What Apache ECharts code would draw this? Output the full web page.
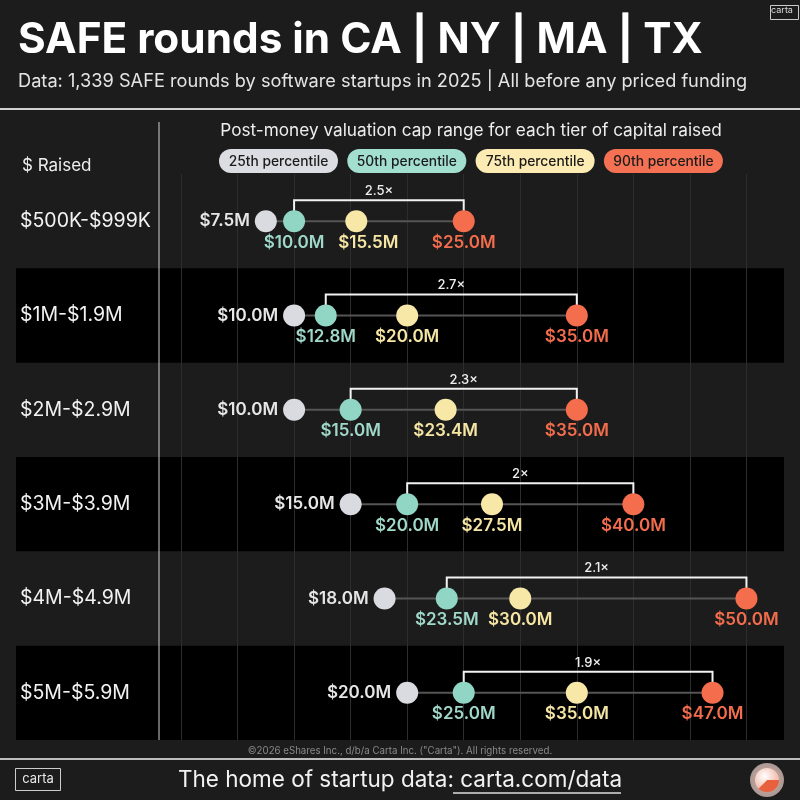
<!DOCTYPE html>
<html>
<head>
<meta charset="utf-8">
<script src="https://cdn.jsdelivr.net/npm/echarts@6/dist/echarts.min.js"></script>
<style>html,body{margin:0;padding:0;background:#1c1c1c;}#c{width:800px;height:800px;}</style>
</head>
<body>
<div id="c"></div>
<script>
var categories = ['$500K-$999K', '$1M-$1.9M', '$2M-$2.9M', '$3M-$3.9M', '$4M-$4.9M', '$5M-$5.9M'];
var p25 = [7.5, 10.0, 10.0, 15.0, 18.0, 20.0];
var p50 = [10.0, 12.8, 15.0, 20.0, 23.5, 25.0];
var p75 = [15.5, 20.0, 23.4, 27.5, 30.0, 35.0];
var p90 = [25.0, 35.0, 35.0, 40.0, 50.0, 47.0];
var ratios = ['2.5', '2.7', '2.3', '2', '2.1', '1.9'];
var legendNames = ['25th percentile', '50th percentile', '75th percentile', '90th percentile'];
var xTicks = {min: 0, max: 55, interval: 5};

var FONT = 'Inter, "Noto Sans", sans-serif';
var dotColors = ['#d9dbe0', '#91d5c4', '#f8e8a8', '#f46d4c'];
var labelColors = ['#e6e6e6', '#9fd8c8', '#f6e6a4', '#f36d4d'];
var pillColors = ['#dcdde2', '#a3dfcf', '#fcebb2', '#f47253'];
// label nudges to avoid overlap (series index -> row -> [dx, dy])
var labelNudge = {2: {0: [12, 0]}};

var chart = echarts.init(document.getElementById('c'));

function fmt(v) { return '$' + v.toFixed(1) + 'M'; }

var bandData = categories.map(function (c, i) { return [i]; }).filter(function (d) { return d[0] % 2 === 1; });
var lineData = categories.map(function (c, i) { return [p25[i], p90[i], i]; });
var bracketData = categories.map(function (c, i) { return [p50[i], p90[i], i, ratios[i]]; });

function scatterSeries(arr, k, pos, dist) {
  return {
    type: 'scatter',
    name: legendNames[k],
    symbolSize: 22,
    z: 5,
    itemStyle: {color: dotColors[k], opacity: 1},
    label: {
      show: true, position: pos, distance: dist,
      formatter: function (p) { return fmt(p.value[0]); },
      color: labelColors[k], fontFamily: FONT, fontWeight: 600, fontSize: 17
    },
    data: arr.map(function (v, i) {
      var item = {value: [v, i]};
      if (labelNudge[k] && labelNudge[k][i]) item.label = {offset: labelNudge[k][i]};
      return item;
    })
  };
}

var legendGraphics = legendNames.map(function (n, k) {
  return {
    type: 'group', left: 219 + k * 128.3, top: 149,
    children: [
      {type: 'rect', shape: {x: 0, y: 0, width: 119, height: 24, r: 12}, style: {fill: pillColors[k]}},
      {type: 'text', x: 59.5, y: 12.5, style: {text: n, fill: '#1b1b1b', font: '500 13.8px ' + FONT, align: 'center', verticalAlign: 'middle'}}
    ]
  };
});

var option = {
  backgroundColor: '#1c1c1c',
  animation: false,
  grid: {left: 181, width: 622, top: 174, height: 566, outerBoundsMode: 'none', containLabel: false},
  xAxis: {
    type: 'value', min: xTicks.min, max: xTicks.max, interval: xTicks.interval,
    axisLine: {show: false}, axisTick: {show: false}, axisLabel: {show: false},
    splitLine: {show: true, lineStyle: {color: '#2d2d2d', width: 1}}
  },
  yAxis: {
    type: 'category', data: categories, inverse: true,
    axisLine: {show: false}, axisTick: {show: false}, splitLine: {show: false},
    axisLabel: {margin: 161, align: 'left', color: '#f2f2f2', fontFamily: FONT, fontSize: 19.5}
  },
  series: [
    {
      type: 'custom', z: -1, clip: false, silent: true,
      renderItem: function (params, api) {
        var c = api.coord([0, api.value(0)]);
        var h = api.size([0, 1])[1];
        return {type: 'rect', shape: {x: 16, y: c[1] - h / 2, width: 768, height: h}, style: {fill: '#000000'}};
      },
      encode: {y: 0},
      data: bandData
    },
    {
      type: 'custom', z: 3, silent: true,
      renderItem: function (params, api) {
        var a = api.coord([api.value(0), api.value(2)]);
        var b = api.coord([api.value(1), api.value(2)]);
        return {type: 'line', shape: {x1: a[0], y1: a[1], x2: b[0], y2: b[1]}, style: {stroke: '#555555', lineWidth: 2}};
      },
      encode: {x: [0, 1], y: 2},
      data: lineData
    },
    {
      type: 'custom', z: 4, silent: true, clip: false,
      renderItem: function (params, api) {
        var a = api.coord([api.value(0), api.value(2)]);
        var b = api.coord([api.value(1), api.value(2)]);
        var y = a[1] - 21;
        return {
          type: 'group',
          children: [
            {type: 'polyline', shape: {points: [[a[0], y + 11], [a[0], y], [b[0], y], [b[0], y + 11]]}, style: {stroke: '#f2f2f2', lineWidth: 2, fill: null}},
            {type: 'text', x: (a[0] + b[0]) / 2, y: y - 9, style: {text: bracketData[params.dataIndex][3] + '×', fill: '#eeeeee', font: '500 13px ' + FONT, align: 'center', verticalAlign: 'middle'}}
          ]
        };
      },
      encode: {x: [0, 1], y: 2},
      data: bracketData
    },
    scatterSeries(p25, 0, 'left', 5),
    scatterSeries(p50, 1, 'bottom', 2),
    scatterSeries(p75, 2, 'bottom', 2),
    scatterSeries(p90, 3, 'bottom', 2)
  ],
  graphic: [
    {type: 'text', left: 18, top: 19, style: {text: 'SAFE rounds in CA | NY | MA | TX', fill: '#ffffff', font: '700 42.3px ' + FONT}},
    {type: 'text', left: 18, top: 73, style: {text: 'Data: 1,339 SAFE rounds by software startups in 2025 | All before any priced funding', fill: '#e4e4e4', font: '400 18.2px ' + FONT}},
    {type: 'rect', left: 768, top: 3, shape: {width: 28, height: 14}, style: {fill: 'none', stroke: '#cccccc', lineWidth: 1}},
    {type: 'text', x: 782, y: 10.5, style: {text: 'carta', fill: '#dddddd', font: '400 9px ' + FONT, align: 'center', verticalAlign: 'middle'}},
    {type: 'line', shape: {x1: 0, y1: 109, x2: 800, y2: 109}, style: {stroke: '#d0d0d0', lineWidth: 2}},
    {type: 'line', shape: {x1: 159, y1: 122, x2: 159, y2: 740}, style: {stroke: '#d0d0d0', lineWidth: 1}, z: 10},
    {type: 'text', x: 471, y: 131, style: {text: 'Post-money valuation cap range for each tier of capital raised', fill: '#eeeeee', font: '400 17.2px ' + FONT, align: 'center', verticalAlign: 'middle'}},
    {type: 'text', x: 22, y: 166, style: {text: '$ Raised', fill: '#eeeeee', font: '400 17px ' + FONT, verticalAlign: 'middle'}},
    {type: 'text', x: 400, y: 751, style: {text: '©2026 eShares Inc., d/b/a Carta Inc. ("Carta"). All rights reserved.', fill: '#8a8a8a', font: '400 9.7px ' + FONT, align: 'center', verticalAlign: 'middle'}},
    {type: 'line', shape: {x1: 0, y1: 759, x2: 800, y2: 759}, style: {stroke: '#bdbdbd', lineWidth: 2}},
    {type: 'rect', shape: {x: 15.5, y: 768.5, width: 45, height: 22}, style: {fill: 'none', stroke: '#cccccc', lineWidth: 1}},
    {type: 'text', x: 38, y: 779.5, style: {text: 'carta', fill: '#e8e8e8', font: '400 13px ' + FONT, align: 'center', verticalAlign: 'middle'}},
    {type: 'text', x: 400, y: 780, style: {text: 'The home of startup data: carta.com/data', fill: '#f2f2f2', font: '400 22.5px ' + FONT, align: 'center', verticalAlign: 'middle'}},
    {type: 'line', shape: {x1: 453, y1: 793, x2: 621, y2: 793}, style: {stroke: '#dddddd', lineWidth: 1.5}},
    {type: 'circle', shape: {cx: 767, cy: 780, r: 17}, style: {fill: {type: 'radial', x: 0.5, y: 0.5, r: 0.5, colorStops: [{offset: 0, color: '#e8b0a0'}, {offset: 1, color: '#a89894'}]}}},
    {type: 'sector', shape: {cx: 767, cy: 780, r: 12, startAngle: 0, endAngle: Math.PI * 0.75}, style: {fill: '#e9603e'}},
    {type: 'sector', shape: {cx: 767, cy: 780, r: 12, startAngle: Math.PI * 0.75, endAngle: Math.PI * 2}, style: {fill: {type: 'radial', x: 0.4, y: 0.4, r: 0.6, colorStops: [{offset: 0, color: '#ffffff'}, {offset: 1, color: '#f3c2b4'}]}}}
  ].concat(legendGraphics)
};

chart.setOption(option);
</script>
</body>
</html>
